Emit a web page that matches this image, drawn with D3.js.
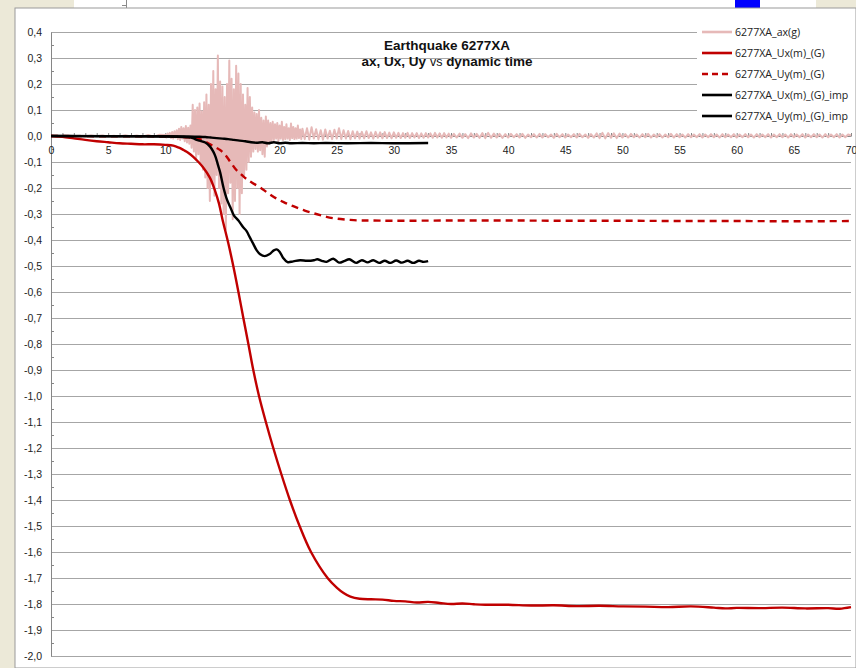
<!DOCTYPE html>
<html>
<head>
<meta charset="utf-8">
<script src="https://cdn.jsdelivr.net/npm/d3@7"></script>
<style>
  html, body { margin: 0; padding: 0; background: #ECE9D8; }
  svg { display: block; font-family: "Open Sans", sans-serif; }
</style>
</head>
<body>
<svg id="chart" width="856" height="668"></svg>
<script>
// ---- data ----
const chartTitle = ['Earthquake 6277XA', 'ax, Ux, Uy vs dynamic time']
const seriesNames = ['6277XA_ax(g)', '6277XA_Ux(m)_(G)', '6277XA_Uy(m)_(G)', '6277XA_Ux(m)_(G)_imp', '6277XA_Uy(m)_(G)_imp']
const xTicks = [0, 5, 10, 15, 20, 25, 30, 35, 40, 45, 50, 55, 60, 65, 70]
const yTicks = [0.4, 0.3, 0.2, 0.1, 0, -0.1, -0.2, -0.3, -0.4, -0.5, -0.6, -0.7, -0.8, -0.9, -1.0,
  -1.1, -1.2, -1.3, -1.4, -1.5, -1.6, -1.7, -1.8, -1.9, -2.0]

// acceleration record, sampled in pieces (start time, time step, values)
const axPre = { start: 0, step: 0.5, values: [0, 0.001, -0.001, 0.002, -0.001, 0.001, -0.002, 0.002, -0.001, 0.002,
  -0.002, 0.001, -0.002, 0.003, -0.002, 0.002, -0.003, 0.004, -0.003, 0.005] }
const axBurst = { start: 10, step: 0.1, values: [
  0.004, -0.006, 0.010, -0.004, 0.012, -0.008, 0.015, -0.010, 0.018, -0.006,
  0.022, -0.012, 0.028, -0.015, 0.035, -0.010, 0.030, -0.020, 0.038, -0.025,
  0.032, -0.030, 0.040, -0.045, 0.120, -0.060, 0.100, -0.090, 0.110, -0.070,
  0.125, -0.110, 0.095, -0.130, 0.130, -0.160, 0.160, -0.200, 0.120, -0.250,
  0.200, -0.180, 0.250, -0.230, 0.180, -0.150, 0.310, -0.200, 0.210, -0.260,
  0.190, -0.300, 0.150, -0.360, 0.200, -0.220, 0.290, -0.180, 0.220, -0.320,
  0.180, -0.250, 0.270, -0.200, 0.240, -0.300, 0.200, -0.220, 0.160, -0.150,
  0.120, -0.130, 0.185, -0.100, 0.150, -0.080, 0.110, -0.060, 0.090, -0.050,
  0.085, -0.060, 0.100, -0.055, 0.070, -0.070, 0.060, -0.080, 0.075, -0.040,
  0.060, -0.030, 0.050, -0.020, 0.055, -0.015, 0.045, -0.010, 0.050, -0.020,
  0.040, -0.010, 0.055, -0.015, 0.035, -0.012, 0.045, -0.010, 0.030, -0.015,
  0.048, -0.008, 0.035, -0.012, 0.030, -0.010, 0.040, -0.008, 0.025, -0.012,
  0.028] }
const axCoda = { start: 22.2, step: 0.2, values: [
  -0.012, 0.030, -0.014, 0.034, -0.010, 0.026, -0.013, 0.022, -0.014, 0.025,
  -0.010, 0.020, -0.012, 0.024, -0.010, 0.030, -0.012, 0.022, -0.010, 0.019,
  -0.012, 0.018, -0.009, 0.017, -0.010, 0.016, -0.009, 0.018, -0.008, 0.014,
  -0.010, 0.016, -0.007, 0.014, -0.009, 0.015, -0.008, 0.013, -0.009, 0.014,
  -0.007, 0.012, -0.008, 0.011, -0.007, 0.012, -0.008, 0.011, -0.006, 0.011,
  -0.008, 0.010, -0.007, 0.011, -0.006, 0.010, -0.007, 0.012, -0.006, 0.010,
  -0.007, 0.011, -0.006, 0.009, -0.007] }
const axTail = { start: 35.25, step: 0.25, values: [
  0.008, -0.006, 0.009, -0.007, 0.007, -0.008, 0.010, -0.006, 0.008, -0.007,
  0.011, -0.008, 0.012, -0.007, 0.009, -0.006, 0.008, -0.007, 0.007, -0.006,
  0.008, -0.005, 0.007, -0.006, 0.008, -0.007, 0.006, -0.005, 0.007, -0.006,
  0.008, -0.006, 0.007, -0.005, 0.006, -0.007, 0.008, -0.005, 0.007, -0.006,
  0.006, -0.005, 0.007, -0.006, 0.008, -0.005, 0.006, -0.007, 0.007, -0.006,
  0.010, -0.008, 0.012, -0.009, 0.011, -0.007, 0.010, -0.008, 0.009, -0.006,
  0.007, -0.006, 0.008, -0.005, 0.006, -0.006, 0.007, -0.005, 0.008, -0.006,
  0.006, -0.005, 0.007, -0.006, 0.006, -0.005, 0.008, -0.006, 0.007, -0.005,
  0.006, -0.006, 0.007, -0.005, 0.006, -0.005, 0.007, -0.006, 0.006, -0.005,
  0.007, -0.005, 0.006, -0.006, 0.007, -0.005, 0.006, -0.005, 0.007, -0.006,
  0.006, -0.005, 0.007, -0.005, 0.006, -0.006, 0.007, -0.005, 0.006, -0.005,
  0.007, -0.006, 0.006, -0.005, 0.007, -0.005, 0.006, -0.006, 0.007, -0.005,
  0.006, -0.005, 0.007, -0.006, 0.006, -0.005, 0.007, -0.005, 0.006, -0.006,
  0.007, -0.005, 0.006, -0.005, 0.007, -0.006, 0.006, -0.005, 0.006, 0.002] }

// displacements [time s, value m]
const uxG = [[0, 0], [1, -0.003], [2, -0.009], [3, -0.015], [4, -0.02], [5, -0.024], [6, -0.028], [7, -0.03],
  [8, -0.032], [9, -0.032], [10, -0.034], [10.7, -0.037], [11.2, -0.045], [11.6, -0.054], [12, -0.064],
  [12.45, -0.08], [12.9, -0.1], [13.3, -0.12], [13.9, -0.16], [14.35, -0.21], [14.7, -0.26], [15, -0.32],
  [15.5, -0.41], [15.95, -0.5], [16.4, -0.6], [16.83, -0.7], [17.27, -0.8], [17.7, -0.9], [18.2, -1.0],
  [18.8, -1.1], [19.45, -1.2], [20.15, -1.3], [20.9, -1.4], [21.75, -1.5], [22.75, -1.6], [24.2, -1.7],
  [25, -1.737], [25.6, -1.758], [26.2, -1.772], [27, -1.78], [28, -1.782], [29, -1.783], [30, -1.788],
  [31, -1.79], [32, -1.794], [33, -1.792], [34, -1.796], [35, -1.8], [36, -1.798], [37, -1.801], [38, -1.803],
  [40, -1.803], [42, -1.806], [44, -1.805], [46, -1.808], [48, -1.807], [50, -1.809], [52, -1.81],
  [54, -1.812], [56, -1.809], [58, -1.814], [59, -1.817], [60, -1.815], [62, -1.816], [64, -1.814],
  [66, -1.817], [68, -1.816], [69, -1.818], [70, -1.812]]
const uyG = [[0, 0], [5, -0.001], [10, -0.002], [11, -0.003], [12, -0.005], [12.5, -0.008], [13, -0.012],
  [13.5, -0.022], [14, -0.034], [14.5, -0.046], [14.8, -0.054], [15.2, -0.07], [15.7, -0.1], [16.2, -0.13],
  [16.7, -0.15], [17.1, -0.165], [17.6, -0.18], [18.3, -0.198], [19, -0.22], [19.7, -0.24], [20.4, -0.255],
  [21.2, -0.27], [22.2, -0.287], [23.2, -0.3], [24.1, -0.311], [25, -0.318], [26, -0.322], [27, -0.325],
  [28, -0.325], [30, -0.326], [35, -0.325], [40, -0.325], [45, -0.326], [50, -0.326], [55, -0.327],
  [60, -0.327], [65, -0.328], [70, -0.327]]
const uxImp = [[0, 0], [5, -0.001], [10, -0.002], [11, -0.003], [11.9, -0.005], [12.4, -0.008], [12.75, -0.015],
  [13, -0.018], [13.5, -0.025], [13.9, -0.04], [14.2, -0.06], [14.4, -0.08], [14.6, -0.11], [14.8, -0.14],
  [15.1, -0.2], [15.4, -0.245], [15.7, -0.275], [16, -0.305], [16.4, -0.325], [16.8, -0.35], [17.1, -0.365],
  [17.4, -0.39], [17.7, -0.415], [18, -0.44], [18.3, -0.455], [18.7, -0.462], [19.1, -0.455], [19.5, -0.44],
  [19.75, -0.436], [20, -0.445], [20.3, -0.468], [20.7, -0.485], [21.2, -0.482], [21.8, -0.478], [22.4, -0.48],
  [23, -0.478], [23.3, -0.474], [23.7, -0.48], [24.1, -0.484], [24.7, -0.472], [25.2, -0.487], [25.7, -0.48],
  [26.1, -0.474], [26.7, -0.488], [27.2, -0.478], [27.7, -0.486], [28.2, -0.478], [28.7, -0.488], [29.2, -0.48],
  [29.7, -0.488], [30.2, -0.479], [30.7, -0.487], [31.2, -0.48], [31.7, -0.488], [32.2, -0.48], [32.6, -0.484],
  [33, -0.481]]
const uyImp = [[0, 0], [10, -0.001], [12, -0.002], [13, -0.003], [13.5, -0.004], [14, -0.006], [14.5, -0.008],
  [15, -0.01], [15.5, -0.012], [16, -0.015], [16.5, -0.018], [17, -0.02], [17.5, -0.024], [18, -0.026],
  [18.5, -0.024], [19, -0.028], [19.5, -0.024], [20, -0.028], [20.5, -0.026], [21, -0.028], [22, -0.027],
  [23, -0.028], [24, -0.027], [26, -0.028], [28, -0.027], [30, -0.028], [33, -0.027]]

// ---- drawing ----
const svg = d3.select('#chart')
const x = d3.scaleLinear().domain([0, 70]).range([51, 851])
const y = d3.scaleLinear().domain([0.4, -2.0]).range([32, 656])
const comma = v => (Math.round(v * 10) / 10).toFixed(1).replace('.', ',').replace('-0,0', '0,0')

// window frame around the sheet
svg.append('rect').attr('x', 0).attr('y', 0).attr('width', 856).attr('height', 668).attr('fill', '#ECE9D8')
svg.append('rect').attr('x', 74).attr('y', 0).attr('width', 742).attr('height', 8).attr('fill', '#fff')
svg.append('path').attr('d', 'M126.5,0V8M122,5.5H126').attr('stroke', '#8a8a8a').attr('fill', 'none')
svg.append('rect').attr('x', 735).attr('y', 0).attr('width', 25).attr('height', 8).attr('fill', '#0000FF')
svg.append('rect').attr('x', 15).attr('y', 8).attr('width', 841).attr('height', 660)
  .attr('fill', '#fff').attr('stroke', '#9a9a9a').attr('stroke-width', 1)

// gridlines
svg.append('g').selectAll('line').data(yTicks).join('line')
  .attr('x1', x(0)).attr('x2', x(70))
  .attr('y1', d => Math.round(y(d)) + 0.5).attr('y2', d => Math.round(y(d)) + 0.5)
  .attr('stroke', '#a6a6a6').attr('stroke-width', 1.2)

// y axis
const yAxis = svg.append('g').attr('transform', `translate(${x(0)},0)`)
  .call(d3.axisLeft(y).tickValues(yTicks).tickFormat(comma).tickSize(0).tickPadding(9))
yAxis.select('.domain').attr('stroke', '#868686')
yAxis.selectAll('text').attr('font-size', 10.5).attr('fill', '#222')
svg.append('g').attr('transform', `translate(${x(0)},0)`)
  .call(d3.axisRight(y).tickValues(d3.range(0.35, -2.0, -0.1)).tickSize(3).tickFormat(''))
  .call(g => g.select('.domain').remove())
  .selectAll('line').attr('stroke', '#868686')

// x axis at zero
const xAxis = svg.append('g').attr('transform', `translate(0,${y(0)})`)
  .call(d3.axisBottom(x).tickValues(xTicks).tickSize(0).tickPadding(11).tickFormat(d3.format('d')))
xAxis.select('.domain').attr('stroke', '#868686')
xAxis.selectAll('text').attr('font-size', 10.5).attr('fill', '#222')
svg.append('g').attr('transform', `translate(0,${y(0)})`)
  .call(d3.axisTop(x).tickValues(d3.range(1, 71, 1)).tickSize(3).tickFormat(''))
  .call(g => g.select('.domain').remove())
  .selectAll('line').attr('stroke', '#868686')

// series
const line = d3.line().x(d => x(d[0])).y(d => y(d[1]))
const curve = d3.line().x(d => x(d[0])).y(d => y(d[1])).curve(d3.curveCatmullRom.alpha(0.5))
const axPoints = [axPre, axBurst, axCoda, axTail]
  .flatMap(s => s.values.map((v, i) => [s.start + i * s.step, v]))

const series = [
  { name: seriesNames[0], data: axPoints, color: '#E6B9B8', width: 2, dash: null, gen: line },
  { name: seriesNames[1], data: uxG, color: '#C00000', width: 2.4, dash: null, gen: curve },
  { name: seriesNames[2], data: uyG, color: '#C00000', width: 2.4, dash: '7,5', gen: curve },
  { name: seriesNames[3], data: uxImp, color: '#000', width: 2.4, dash: null, gen: curve },
  { name: seriesNames[4], data: uyImp, color: '#000', width: 2.4, dash: null, gen: curve }
]
svg.append('g').selectAll('path').data(series).join('path')
  .attr('d', d => d.gen(d.data))
  .attr('fill', 'none')
  .attr('stroke', d => d.color)
  .attr('stroke-width', d => d.width)
  .attr('stroke-dasharray', d => d.dash)
  .attr('stroke-linejoin', 'round')

// title, two lines
const titleFont = '"Liberation Sans", Arial, sans-serif'
svg.append('text').attr('x', 447).attr('y', 50).attr('text-anchor', 'middle')
  .attr('font-family', titleFont).attr('font-weight', 'bold').attr('font-size', 13.5).attr('fill', '#111')
  .text(chartTitle[0])
const sub = svg.append('text').attr('x', 447).attr('y', 66).attr('text-anchor', 'middle')
  .attr('font-family', titleFont).attr('font-weight', 'bold').attr('font-size', 13.5).attr('fill', '#111')
sub.append('tspan').text('ax, Ux, Uy ')
sub.append('tspan').attr('font-weight', 'normal').attr('font-size', 12.5).text('vs')
sub.append('tspan').text(' dynamic time')

// legend
const legend = svg.append('g')
legend.append('rect').attr('x', 697).attr('y', 20).attr('width', 158).attr('height', 106).attr('fill', '#fff')
const item = legend.selectAll('g').data(series).join('g')
  .attr('transform', (d, i) => `translate(702,${32 + i * 21})`)
item.append('line').attr('x1', 0).attr('x2', 30).attr('y1', 0).attr('y2', 0)
  .attr('stroke', d => d.color).attr('stroke-width', 2.6).attr('stroke-dasharray', d => d.dash ? '6,4' : null)
item.append('text').attr('x', 33).attr('y', 3.5).attr('font-size', 10.6).attr('fill', '#222').text(d => d.name)
</script>
</body>
</html>
